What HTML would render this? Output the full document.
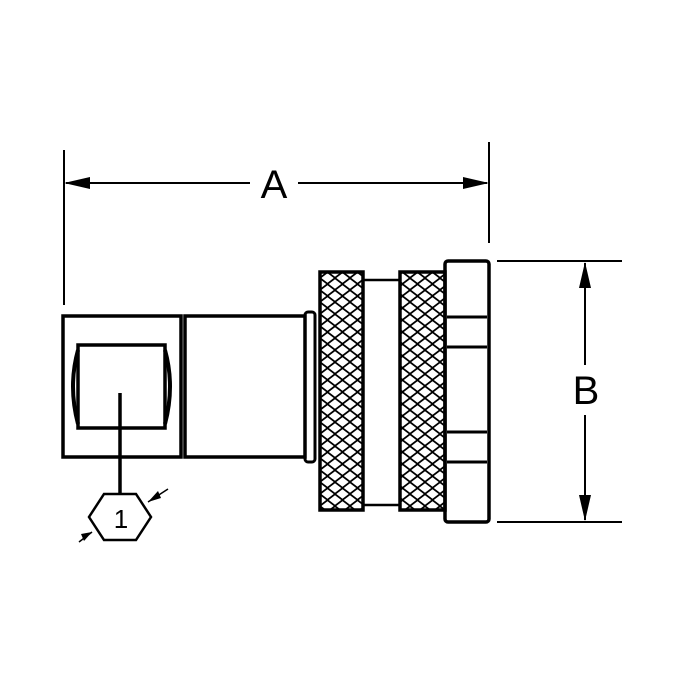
<!DOCTYPE html>
<html><head><style>body{margin:0;background:#fff}svg{display:block}</style></head>
<body>
<svg width="680" height="680" viewBox="0 0 680 680" xmlns="http://www.w3.org/2000/svg">
<defs>
<pattern id="k" x="320" y="272" width="15" height="12" patternUnits="userSpaceOnUse">
<rect width="15" height="12" fill="#000"/>
<polygon points="7.5,1.3 13.7,6 7.5,10.7 1.3,6" fill="#fff"/>
<polygon points="0,-4.7 6.2,0 0,4.7 -6.2,0" fill="#fff"/>
<polygon points="15,-4.7 21.2,0 15,4.7 8.8,0" fill="#fff"/>
<polygon points="0,7.3 6.2,12 0,16.7 -6.2,12" fill="#fff"/>
<polygon points="15,7.3 21.2,12 15,16.7 8.8,12" fill="#fff"/>
</pattern>
</defs>
<g stroke="#000" fill="none">
<line x1="64" y1="150" x2="64" y2="305" stroke-width="2"/>
<line x1="489" y1="142" x2="489" y2="243" stroke-width="2"/>
<line x1="66" y1="183" x2="250" y2="183" stroke-width="2"/>
<line x1="298" y1="183" x2="487" y2="183" stroke-width="2"/>
<line x1="497" y1="261" x2="622" y2="261" stroke-width="2"/>
<line x1="497" y1="522" x2="622" y2="522" stroke-width="2"/>
<line x1="585" y1="263" x2="585" y2="365" stroke-width="2"/>
<line x1="585" y1="415" x2="585" y2="520" stroke-width="2"/>
<rect x="63" y="316" width="118" height="141" stroke-width="3.5"/>
<rect x="78" y="345" width="87" height="83" stroke-width="3.5"/>
<path d="M78 350 Q68 386 78 424 M165 350 Q175 386 165 424" stroke-width="4"/>
<rect x="185" y="316" width="120" height="141" stroke-width="3.5"/>
<rect x="305" y="312" width="10" height="150" rx="3" stroke-width="3"/>
<line x1="120" y1="393" x2="120" y2="493" stroke-width="3.5"/>
<polygon points="104,494 136,494 151,517 136,540 104,540 89,517" stroke-width="2.5"/>
<line x1="148" y1="502" x2="168" y2="489" stroke-width="1.5"/>
<line x1="92" y1="532" x2="79" y2="542" stroke-width="1.5"/>
<line x1="363" y1="280" x2="400" y2="280" stroke-width="2.5"/>
<line x1="363" y1="505" x2="400" y2="505" stroke-width="2.5"/>
<rect x="320" y="272" width="43" height="238" fill="url(#k)" stroke-width="3.5"/>
<rect x="400" y="272" width="45" height="238" fill="url(#k)" stroke-width="3.5"/>
<rect x="445" y="261" width="44" height="261" rx="3" stroke-width="3.5"/>
<line x1="447" y1="317" x2="487" y2="317" stroke-width="3"/>
<line x1="447" y1="347" x2="487" y2="347" stroke-width="3"/>
<line x1="447" y1="432" x2="487" y2="432" stroke-width="3"/>
<line x1="447" y1="462" x2="487" y2="462" stroke-width="3"/>
</g>
<g fill="#000">
<polygon points="64,183 90,177 90,189"/>
<polygon points="489,183 463,177 463,189"/>
<polygon points="585,262 579,288 591,288"/>
<polygon points="585,521 579,495 591,495"/>
<polygon points="148,502 158,491 161,498"/>
<polygon points="92,532 84,541 81,534"/>
</g>
<g font-family="Liberation Sans, sans-serif" fill="#000" text-anchor="middle">
<text x="274" y="198" font-size="40">A</text>
<text x="586" y="404" font-size="40">B</text>
<text x="121" y="528" font-size="26">1</text>
</g>
</svg>
</body></html>
